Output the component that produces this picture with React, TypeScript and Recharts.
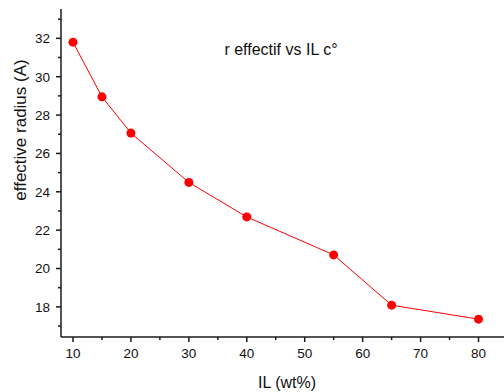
import React from 'react';
import { LineChart, Line, XAxis, YAxis } from 'recharts';

const ilWt = [10, 15, 20, 30, 40, 55, 65, 80];
const effRadius = [31.8, 28.95, 27.06, 24.49, 22.69, 20.71, 18.09, 17.36];
const xTicks = [10, 15, 20, 25, 30, 35, 40, 45, 50, 55, 60, 65, 70, 75, 80];
const yTicks = [17, 18, 19, 20, 21, 22, 23, 24, 25, 26, 27, 28, 29, 30, 31, 32, 33];
const xMajor = [10, 20, 30, 40, 50, 60, 70, 80];
const yMajor = [18, 20, 22, 24, 26, 28, 30, 32];

const data = ilWt.map((x, i) => ({ x, r: effRadius[i] }));

const FONT = '"Liberation Sans", Arial, sans-serif';
const AXIS = '#1a1a1a';

const YTick = (props: any) => {
  const { x, y, payload } = props;
  const major = yMajor.includes(payload.value);
  return (
    <g>
      <line x1={x} x2={x - (major ? 5 : 3)} y1={y} y2={y} stroke={AXIS} strokeWidth={1.5} />
      {major && (
        <text x={x - 11} y={y} dy="0.36em" textAnchor="end" fontSize={13.5} fontFamily={FONT} fill="#111">
          {payload.value}
        </text>
      )}
    </g>
  );
};

const XTick = (props: any) => {
  const { x, y, payload } = props;
  const major = xMajor.includes(payload.value);
  return (
    <g>
      <line x1={x} x2={x} y1={y} y2={y + (major ? 5 : 3)} stroke={AXIS} strokeWidth={1.5} />
      {major && (
        <text x={x} y={y + 16} dy="0.36em" textAnchor="middle" fontSize={13.5} fontFamily={FONT} fill="#111">
          {payload.value}
        </text>
      )}
    </g>
  );
};

export default function App() {
  return (
    <div style={{ position: 'absolute', left: 0, top: 0, width: 504, height: 392, background: '#fff' }}>
      <LineChart width={504} height={392} data={data} margin={{ top: 9, right: 0, bottom: 0, left: 0 }}>
        <XAxis
          type="number"
          dataKey="x"
          domain={[7.93, 84.4]}
          ticks={xTicks}
          allowDataOverflow
          height={55}
          tickSize={0}
          tickMargin={0}
          tickLine={false}
          axisLine={{ stroke: AXIS, strokeWidth: 1.5 }}
          tick={<XTick />}
          interval={0}
        />
        <YAxis
          type="number"
          domain={[16.43, 33.53]}
          ticks={yTicks}
          allowDataOverflow
          width={61}
          tickSize={0}
          tickMargin={0}
          tickLine={false}
          axisLine={{ stroke: AXIS, strokeWidth: 1.5 }}
          tick={<YTick />}
          interval={0}
        />
        <Line
          type="linear"
          dataKey="r"
          stroke="#ff0000"
          strokeWidth={1}
          dot={{ r: 4.5, fill: '#ff0000', stroke: '#ff0000', strokeWidth: 0 }}
          isAnimationActive={false}
        />
      </LineChart>
      <svg width={504} height={392} style={{ position: 'absolute', left: 0, top: 0, pointerEvents: 'none' }}>
        <text x={281} y={55} textAnchor="middle" fontSize={16} fontFamily={FONT} fill="#111">
          r effectif vs IL c°
        </text>
        <text
          x={20}
          y={130}
          transform="rotate(-90 20 130)"
          textAnchor="middle"
          dy="0.36em"
          fontSize={17}
          fontFamily={FONT}
          fill="#111"
        >
          effective radius (A)
        </text>
        <text x={287} y={382} dy="0.36em" textAnchor="middle" fontSize={16} fontFamily={FONT} fill="#111">
          IL (wt%)
        </text>
      </svg>
    </div>
  );
}
